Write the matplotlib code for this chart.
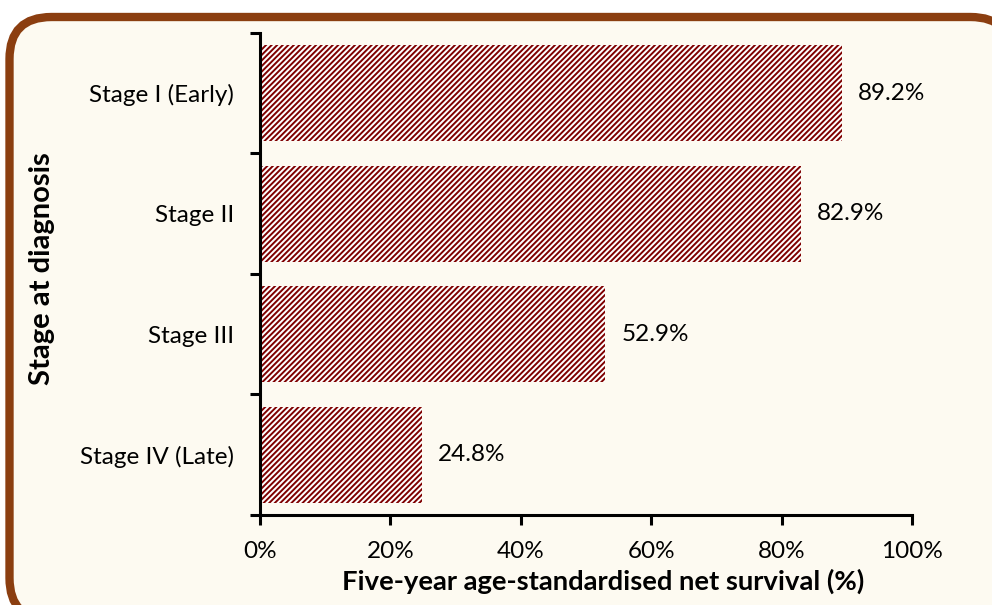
import matplotlib.pyplot as plt
from matplotlib.patches import FancyBboxPatch
from matplotlib.ticker import FixedLocator, PercentFormatter

stages = ['Stage I (Early)', 'Stage II', 'Stage III', 'Stage IV (Late)']
survival = [89.2, 82.9, 52.9, 24.8]

plt.rcParams['font.family'] = ['Lato', 'DejaVu Sans']
plt.rcParams['hatch.linewidth'] = 1.4
plt.rcParams['hatch.color'] = '#7f0000'

fig = plt.figure(figsize=(9.92, 6.05), dpi=100)
fig.patch.set_facecolor('white')

# fond arrondi avec bordure marron
box = FancyBboxPatch((0.095, -0.15), 10.03, 6.03, boxstyle='round,pad=0,rounding_size=0.42',
                     transform=fig.dpi_scale_trans, facecolor='#fdfaf1',
                     edgecolor='#8b3e10', linewidth=6, zorder=-5)
fig.patches.append(box)

ax = fig.add_axes([0.2621, 0.1488, 0.6573, 0.7967])
ax.set_facecolor('none')
ax.set_zorder(2)

ypos = list(range(len(stages)))[::-1]
ax.barh(ypos, survival, height=0.8, color='white', edgecolor='#7f0000',
        hatch='//////', linewidth=0)

for y, v in zip(ypos, survival):
    ax.text(v + 2.5, y, f'{v:.1f}%', va='center', ha='left', fontsize=17.5)

ax.set_xlim(0, 100)
ax.set_ylim(-0.5, 3.5)
ax.set_xticks([0, 20, 40, 60, 80, 100])
ax.xaxis.set_major_formatter(PercentFormatter(decimals=0))
ax.set_yticks(ypos)
ax.set_yticklabels(stages)
ax.yaxis.set_major_locator(FixedLocator(ypos))
ax.set_yticks([-0.5, 0.5, 1.5, 2.5, 3.5], minor=True)
ax.tick_params(axis='y', which='major', length=0, pad=18.5, labelsize=17.5)
ax.tick_params(axis='y', which='minor', length=7, width=2.2, direction='out')
ax.tick_params(axis='x', length=7, width=2.2, direction='out', labelsize=17.5, pad=11.5)

for s in ['top', 'right']:
    ax.spines[s].set_visible(False)
for s in ['left', 'bottom']:
    ax.spines[s].set_linewidth(2.2)

ax.set_xlabel('Five-year age-standardised net survival (%)', fontsize=19.7, fontweight='bold', labelpad=5)
ax.set_ylabel('Stage at diagnosis', fontsize=21, fontweight='bold', labelpad=18)
ax.xaxis.label.set_x(0.526)
ax.yaxis.label.set_y(0.512)

fig.savefig('out.png', dpi=100)
